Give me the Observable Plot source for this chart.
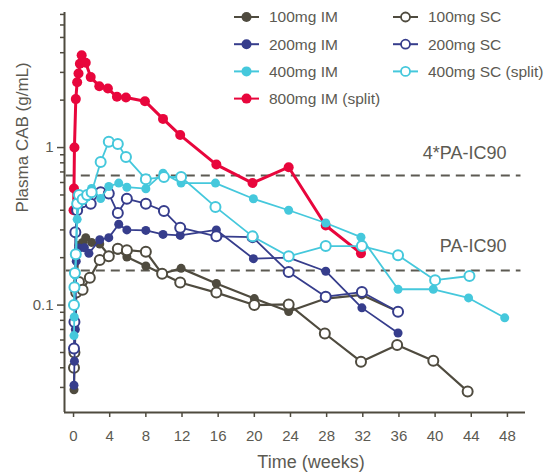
<!DOCTYPE html>
<html><head><meta charset="utf-8">
<script src="https://cdn.jsdelivr.net/npm/d3@7"></script>
<script src="https://cdn.jsdelivr.net/npm/@observablehq/plot@0.6"></script>
<style>
html,body{margin:0;padding:0;background:#fff;}
#wrap{position:relative;width:548px;height:472px;font-family:"Liberation Sans",Arial,sans-serif;}
#legend{position:absolute;left:0;top:0;}
</style></head>
<body><div id="wrap"></div>
<script>
// ---- data (weeks, µg/mL) ----
const xTicks = [0,4,8,12,16,20,24,28,32,36,40,44,48];
const yMajor = [0.1, 1];
const yMinor = [0.03,0.04,0.05,0.06,0.07,0.08,0.09,0.2,0.3,0.4,0.5,0.6,0.7,0.8,0.9,2,3,4,5,6,7];
const icLevels = [0.166, 0.664];
const icLabels = ["PA-IC90", "4*PA-IC90"];
const icLabelY = [0.238, 0.916];

const im800T = [0.0,0.05,0.1,0.25,0.4,0.55,0.7,0.9,1.35,1.9,2.85,3.8,4.8,5.8,7.9,9.9,11.8,15.8,19.8,23.8,27.9,31.8];
const im800V = [0.40,0.55,1.0,2.03,2.6,2.95,3.4,3.85,3.45,2.8,2.45,2.37,2.1,2.08,1.97,1.52,1.2,0.78,0.595,0.75,0.32,0.213];

const im100T = [0.05,0.1,0.3,0.6,1.0,1.35,2.0,2.9,3.9,4.9,5.9,8,9.8,11.9,15.8,20,23.8,27.9,31.9,35.9];
const im100V = [0.029,0.04,0.13,0.24,0.25,0.268,0.25,0.244,0.207,0.223,0.202,0.177,0.158,0.171,0.137,0.11,0.091,0.11,0.116,0.091];

const sc100T = [0.05,0.1,0.3,0.6,1.0,1.8,2.9,3.9,4.9,5.9,8,9.8,11.8,15.8,20,23.8,27.8,31.8,35.8,39.8,43.6];
const sc100V = [0.04,0.05,0.12,0.14,0.125,0.149,0.193,0.204,0.228,0.223,0.218,0.158,0.139,0.12,0.1,0.101,0.066,0.0437,0.0558,0.0443,0.0283];

const im200T = [0.05,0.1,0.2,0.3,0.6,1.2,1.7,2.9,3.9,5,5.9,8,9.9,11.8,15.8,19.9,23.8,27.9,31.9,35.9];
const im200V = [0.031,0.044,0.07,0.19,0.23,0.231,0.213,0.26,0.268,0.326,0.30,0.298,0.281,0.277,0.30,0.197,0.2,0.164,0.096,0.0665];

const sc200T = [0.05,0.1,0.2,0.4,1.0,1.9,3.0,3.9,4.9,5.9,8,10,11.8,15.8,19.8,23.8,27.9,31.9,35.9];
const sc200V = [0.053,0.078,0.29,0.40,0.45,0.44,0.52,0.51,0.384,0.473,0.44,0.395,0.31,0.273,0.27,0.162,0.113,0.121,0.0906];

const im400T = [0.05,0.08,0.1,0.15,0.2,0.3,0.4,0.6,1.0,1.5,2.0,3.0,3.9,5.0,5.9,8,9.9,11.9,15.7,19.9,23.8,27.9,31.8,35.9,39.8,43.7,47.7];
const im400V = [0.064,0.084,0.1,0.13,0.155,0.21,0.35,0.44,0.46,0.485,0.55,0.475,0.566,0.595,0.56,0.548,0.688,0.595,0.595,0.473,0.40,0.332,0.27,0.126,0.126,0.111,0.083];

const sc400T = [0.05,0.1,0.15,0.25,0.4,0.6,1.0,1.5,2.0,3.0,3.9,4.9,5.8,8,10,11.9,15.7,19.8,23.8,27.9,31.9,35.9,40,43.8];
const sc400V = [0.1,0.13,0.16,0.21,0.44,0.5,0.47,0.5,0.52,0.81,1.09,1.055,0.87,0.63,0.65,0.65,0.42,0.273,0.204,0.237,0.237,0.207,0.144,0.153];

const colors = {dark:"#4f4b3f", navy:"#363d8c", cyan:"#45c8dc", red:"#e8063c"};

const rows = (T,V) => T.map((t,i)=>({t, v:V[i]}));
const series = [
  {name:"800mg IM (split)", data: rows(im800T, im800V), color: colors.red, open:false, w:3, r:5},
  {name:"100mg IM", data: rows(im100T, im100V), color: colors.dark, open:false, w:2.2, r:4.5},
  {name:"100mg SC", data: rows(sc100T, sc100V), color: colors.dark, open:true, w:2.2, r:5},
  {name:"200mg IM", data: rows(im200T, im200V), color: colors.navy, open:false, w:1.8, r:4.5},
  {name:"200mg SC", data: rows(sc200T, sc200V), color: colors.navy, open:true, w:1.8, r:5},
  {name:"400mg IM", data: rows(im400T, im400V), color: colors.cyan, open:false, w:1.8, r:4.5},
  {name:"400mg SC (split)", data: rows(sc400T, sc400V), color: colors.cyan, open:true, w:1.8, r:5}
];

const axisColor = "#4f4b3f";
const textColor = "#5c5a52";
const fontFam = '"Liberation Sans", Arial, sans-serif';

const marks = [];
marks.push(Plot.ruleY(icLevels, {x1: -0.8, x2: 49.5, stroke: "#5c5a52", strokeWidth: 2, strokeDasharray: "9,6"}));
marks.push(Plot.text(icLabels.map((s,i)=>({s, y:icLabelY[i]})), {x: 47.9, y: "y", text: "s", textAnchor: "end", fontSize: 18, fill: textColor}));
for (const s of series) {
  marks.push(Plot.line(s.data, {x:"t", y:"v", stroke: s.color, strokeWidth: s.w}));
  marks.push(Plot.dot(s.data, {x:"t", y:"v", r: s.r, stroke: s.color, strokeWidth: s.open ? 2 : 0, fill: s.open ? "white" : s.color}));
}
// axes
marks.push(Plot.ruleX([-1], {stroke: axisColor, strokeWidth: 2}));
marks.push(Plot.ruleY([0.0208], {stroke: axisColor, strokeWidth: 2}));
marks.push(Plot.axisY({ticks: yMinor, tickSize: 4, tickFormat: () => "", stroke: axisColor, strokeWidth: 1.5, label: null}));
marks.push(Plot.axisY({ticks: yMajor, tickSize: 7, tickPadding: 4, tickFormat: d => String(d), stroke: axisColor, strokeWidth: 1.5, fontSize: 15, fill: textColor, label: null}));
marks.push(Plot.axisX({ticks: xTicks, tickSize: 5, tickPadding: 13, stroke: axisColor, strokeWidth: 1.5, fontSize: 15, fill: textColor, label: null}));
marks.push(Plot.text(["Time (weeks)"], {frameAnchor: "bottom", dx: 16, dy: 50, lineAnchor: "middle", fontSize: 18, fill: textColor}));
marks.push(Plot.text(["Plasma CAB (g/mL)"], {frameAnchor: "left", dx: -42, rotate: -90, lineAnchor: "middle", fontSize: 17, fill: textColor}));

const chart = Plot.plot({
  width: 548, height: 472,
  marginLeft: 64, marginRight: 23, marginTop: 12, marginBottom: 60,
  style: {fontFamily: fontFam, color: textColor, background: "white"},
  x: {domain: [-1, 50]},
  y: {type: "log", domain: [0.0208, 7.2]},
  marks
});
document.getElementById("wrap").appendChild(chart);

// legend overlay
const legendItems = [
  {name:"100mg IM", color: colors.dark, open:false, col:0, row:0},
  {name:"200mg IM", color: colors.navy, open:false, col:0, row:1},
  {name:"400mg IM", color: colors.cyan, open:false, col:0, row:2},
  {name:"800mg IM (split)", color: colors.red, open:false, col:0, row:3},
  {name:"100mg SC", color: colors.dark, open:true, col:1, row:0},
  {name:"200mg SC", color: colors.navy, open:true, col:1, row:1},
  {name:"400mg SC (split)", color: colors.cyan, open:true, col:1, row:2}
];
const lg = d3.select("#wrap").append("svg").attr("id","legend").attr("width",548).attr("height",120)
  .style("font-family", fontFam);
const colX = [234, 393], rowY0 = 17, rowDy = 27.2;
for (const it of legendItems) {
  const x0 = colX[it.col], y = rowY0 + it.row*rowDy;
  lg.append("line").attr("x1",x0).attr("x2",x0+25).attr("y1",y).attr("y2",y).attr("stroke",it.color).attr("stroke-width",2);
  lg.append("circle").attr("cx",x0+12.5).attr("cy",y).attr("r", it.open?4.5:5)
    .attr("fill", it.open?"white":it.color).attr("stroke",it.color).attr("stroke-width", it.open?1.8:0);
  lg.append("text").attr("x",x0+35).attr("y",y).attr("dy","0.35em").attr("font-size",15.5).attr("fill",textColor).text(it.name);
}
</script>
</body></html>
